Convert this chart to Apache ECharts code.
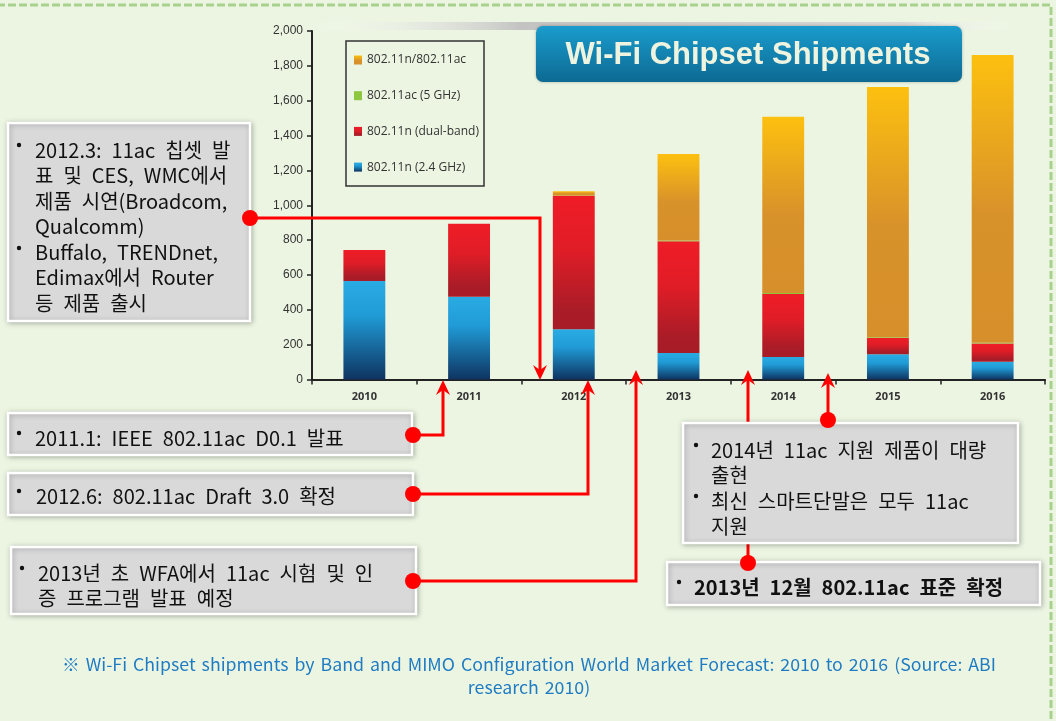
<!DOCTYPE html>
<html>
<head>
<meta charset="utf-8">
<title>Wi-Fi Chipset Shipments</title>
<script src="https://cdn.jsdelivr.net/npm/echarts@6/dist/echarts.min.js"></script>
<style>
  html, body { margin: 0; padding: 0; background: #ecf5e2; }
  #chart { width: 1056px; height: 721px; }
</style>
</head>
<body>
<div id="chart"></div>
<script>
// 연도 (categories)
var years = ['2010', '2011', '2012', '2013', '2014', '2015', '2016'];
// 단위: 백만 개
var n24 = [565, 475, 288, 152, 129, 145, 102];      // 802.11n (2.4 GHz)
var nDual = [178, 419, 765, 641, 362, 93, 104];     // 802.11n (dual-band)
var ac5 = [0, 0, 2, 5, 5, 5, 5];                    // 802.11ac (5 GHz)
var nAc = [0, 0, 25, 496, 1012, 1436, 1651];        // 802.11n/802.11ac
var seriesNames = ['802.11n (2.4 GHz)', '802.11n (dual-band)', '802.11ac (5 GHz)', '802.11n/802.11ac'];
var legendOrder = ['802.11n/802.11ac', '802.11ac (5 GHz)', '802.11n (dual-band)', '802.11n (2.4 GHz)'];
var yMax = 2000;
var yStep = 200;

var chart = echarts.init(document.getElementById('chart'));

function grad(stops) {
  return new echarts.graphic.LinearGradient(0, 0, 0, 1, stops.map(function (s) {
    return { offset: s[0], color: s[1] };
  }));
}
var blueFill = grad([[0, '#2aabe3'], [0.35, '#209bd6'], [1, '#0e3461']]);
var redFill = grad([[0, '#ef1c26'], [0.4, '#e01d27'], [0.85, '#aa1c27'], [1, '#a81c27']]);
var greenFill = '#8dc63f';
var orangeFill = grad([[0, '#fdc00f'], [0.55, '#d8922a'], [1, '#d68f2a']]);

var kr = '"Noto Sans CJK KR", "Noto Sans", sans-serif';
var LH = 25.5;
// 공백을 조금 넓게 (원본 글꼴 간격에 맞춤)
function wide(s) { return s.replace(/ /g, '\u2002'); }

// 주석 상자
function box(x, y, w, h) {
  return {
    type: 'rect', z: 20,
    shape: { x: x, y: y, width: w, height: h },
    style: { fill: '#d9d9d9', stroke: '#ffffff', lineWidth: 2.5,
      shadowBlur: 5, shadowColor: 'rgba(0,0,0,0.25)', shadowOffsetX: 1, shadowOffsetY: 1 }
  };
}
// y = 첫 줄 가운데
function txt(x, y, s, bold) {
  return {
    type: 'text', z: 21, x: x, y: y - LH / 2,
    style: { text: wide(s), fill: '#111', font: (bold ? 'bold ' : '') + '20px ' + kr,
      lineHeight: LH, verticalAlign: 'top', textVerticalAlign: 'top' }
  };
}
function bullet(x, y) {
  return {
    type: 'circle', z: 21, shape: { cx: x, cy: y, r: 2.2 }, style: { fill: '#111' }
  };
}
function redLine(points) {
  return {
    type: 'polyline', z: 15, shape: { points: points },
    style: { stroke: '#ff0000', lineWidth: 3, fill: null }
  };
}
function dot(x, y) {
  return { type: 'circle', z: 22, shape: { cx: x, cy: y, r: 8 }, style: { fill: '#ff0000' } };
}
function arrow(x, tip, dir) {
  // dir: -1 위쪽, 1 아래쪽
  var d = -dir;
  return {
    type: 'polygon', z: 16,
    shape: { points: [[x, tip], [x - 7, tip + d * 15], [x, tip + d * 10], [x + 7, tip + d * 15]] },
    style: { fill: '#ff0000' }
  };
}
function note(y, s) {
  return {
    type: 'text', z: 10, x: 529, y: y, scaleX: 1.045,
    style: { text: s.replace(/ /g, '\u2004'), fill: '#1f7cc3', font: '17px ' + kr,
      align: 'center', verticalAlign: 'middle', textAlign: 'center', textVerticalAlign: 'middle' }
  };
}

var graphics = [
  // 외곽 점선
  { type: 'rect', z: 0, shape: { x: -3, y: 5, width: 1054, height: 740 },
    style: { fill: null, stroke: '#a9d18e', lineWidth: 3, lineDash: [8, 3] } },
  // 제목 위 그림자 띠
  { type: 'rect', z: 1, shape: { x: 312, y: 22, width: 700, height: 8 },
    style: { fill: new echarts.graphic.LinearGradient(0, 0, 1, 0, [
      { offset: 0, color: 'rgba(255,255,255,0)' }, { offset: 0.3, color: 'rgba(190,190,190,0.9)' },
      { offset: 0.85, color: 'rgba(215,215,215,0.9)' }, { offset: 1, color: 'rgba(255,255,255,0)' }]) } },
  // 제목 상자
  { type: 'rect', z: 5, shape: { x: 536, y: 26, width: 426, height: 56, r: 7 },
    style: { fill: grad([[0, '#1a9ccd'], [1, '#0d6a93']]), shadowBlur: 3, shadowColor: 'rgba(0,0,0,0.3)' } },
  { type: 'text', z: 6, x: 748, y: 55,
    style: { text: 'Wi-Fi Chipset Shipments', fill: '#eef4df', font: 'bold 31px "Liberation Sans", Arial, sans-serif',
      align: 'center', verticalAlign: 'middle', textAlign: 'center', textVerticalAlign: 'middle' } },
  // 범례 테두리
  { type: 'rect', z: 5, shape: { x: 346, y: 41, width: 138, height: 145 },
    style: { fill: 'rgba(0,0,0,0)', stroke: '#333', lineWidth: 1.5 } },

  // 화살표 선
  redLine([[250, 218], [540, 218], [540, 372]]), arrow(540, 380, 1), dot(250, 218),
  redLine([[413, 435], [443, 435], [443, 388]]), arrow(443, 380, -1), dot(413, 435),
  redLine([[413, 494], [588, 494], [588, 388]]), arrow(588, 380, -1), dot(413, 494),
  redLine([[413, 581], [636, 581], [636, 378]]), arrow(636, 370, -1), dot(413, 581),
  redLine([[748, 563], [748, 378]]), arrow(748, 370, -1), dot(748, 563),
  redLine([[828, 420], [828, 381]]), arrow(828, 373, -1), dot(828, 420),

  // 상자 1
  box(8, 123, 242, 198),
  bullet(19, 145), bullet(19, 248),
  txt(35, 150, '2012.3: 11ac 칩셋 발\n표 및 CES, WMC에서\n제품 시연(Broadcom,\nQualcomm)\nBuffalo, TRENDnet,\nEdimax에서 Router\n등 제품 출시'),
  // 상자 2
  box(8, 413, 404, 42),
  bullet(19, 433),
  txt(35, 438, '2011.1: IEEE 802.11ac D0.1 발표'),
  // 상자 3
  box(8, 473, 405, 42),
  bullet(19, 491),
  txt(36, 496, '2012.6: 802.11ac Draft 3.0 확정'),
  // 상자 4
  box(11, 547, 405, 67),
  bullet(22, 568),
  txt(38, 573, '2013년 초 WFA에서 11ac 시험 및 인\n증 프로그램 발표 예정'),
  // 상자 5
  box(683, 423, 335, 120),
  bullet(696, 445), bullet(696, 496),
  txt(711, 450, '2014년 11ac 지원 제품이 대량\n출현\n최신 스마트단말은 모두 11ac\n지원'),
  // 상자 6
  box(667, 562, 373, 43),
  bullet(679, 582),
  txt(694, 587, '2013년 12월 802.11ac 표준 확정', true),

  // 출처
  note(665, '※ Wi-Fi Chipset shipments by Band and MIMO Configuration World Market Forecast: 2010 to 2016 (Source: ABI'),
  note(688, 'research 2010)')
];

function barSeries(name, data, fill) {
  return {
    name: name, type: 'bar', stack: 'total', barWidth: '40%',
    itemStyle: { color: fill },
    data: data,
    animation: false
  };
}

chart.setOption({
  backgroundColor: '#ecf5e2',
  animation: false,
  grid: { left: 312, right: 11, top: 31, bottom: 341.5, containLabel: false },
  legend: {
    data: legendOrder.map(function (n) { return { name: n, icon: 'rect' }; }),
    orient: 'vertical', left: 349, top: 49,
    itemWidth: 8, itemHeight: 9, itemGap: 23.7,
    textStyle: { color: '#333', fontSize: 12, fontFamily: '"Open Sans", "Noto Sans", sans-serif' },
    selectedMode: false
  },
  xAxis: {
    type: 'category', data: years,
    axisLine: { lineStyle: { color: '#222', width: 2 } },
    axisTick: { show: true, length: 5, lineStyle: { color: '#222', width: 1.5 } },
    axisLabel: { color: '#333', fontSize: 11, fontWeight: 'bold', margin: 12,
      fontFamily: '"Open Sans", "Liberation Sans", sans-serif' }
  },
  yAxis: {
    type: 'value', min: 0, max: yMax, interval: yStep,
    splitLine: { show: false },
    axisLine: { show: true, lineStyle: { color: '#222', width: 2 } },
    axisTick: { show: true, length: 5, lineStyle: { color: '#222', width: 1.5 } },
    axisLabel: { color: '#333', fontSize: 12, margin: 9,
      fontFamily: '"Liberation Sans", Arial, sans-serif',
      formatter: function (v) { return v.toLocaleString('en-US'); } }
  },
  series: [
    barSeries(seriesNames[0], n24, blueFill),
    barSeries(seriesNames[1], nDual, redFill),
    barSeries(seriesNames[2], ac5, greenFill),
    barSeries(seriesNames[3], nAc, orangeFill)
  ],
  graphic: graphics
});
</script>
</body>
</html>
